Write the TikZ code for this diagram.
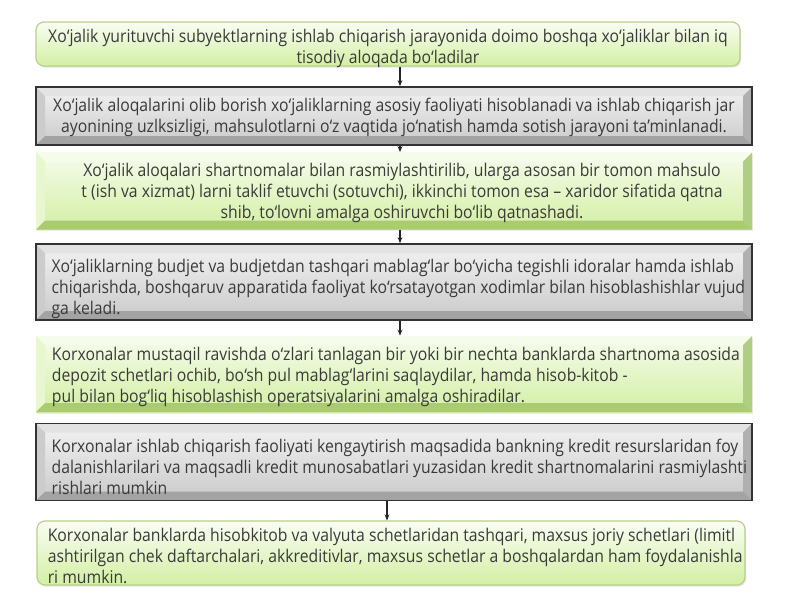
\documentclass[tikz,border=0pt]{standalone}
\usepackage{fontspec}
\setmainfont{Open Sans}[FakeStretch=0.9]
\usepackage{tikz}
\usetikzlibrary{arrows.meta}
\usetikzlibrary{shadows}
\definecolor{txtgray}{HTML}{3A3A3A}
\definecolor{grntop}{HTML}{F6FCEC}
\definecolor{grnbot}{HTML}{D3EFA3}
\definecolor{grnedge}{HTML}{B7D08C}
\definecolor{grnright}{HTML}{B0CD84}
\definecolor{grnlow}{HTML}{AACB72}
\newlength{\bev}
\setlength{\bev}{4.5pt}
\tikzset{
	bevel/.style n args={4}{path picture={
		\fill[#1] (path picture bounding box.north west) -- (path picture bounding box.north east)
			-- ([shift={(-\bev,-\bev)}]path picture bounding box.north east)
			-- ([shift={(\bev,-\bev)}]path picture bounding box.north west) -- cycle;
		\fill[#2] (path picture bounding box.north west) -- (path picture bounding box.south west)
			-- ([shift={(\bev,\bev)}]path picture bounding box.south west)
			-- ([shift={(\bev,-\bev)}]path picture bounding box.north west) -- cycle;
		\fill[#3] (path picture bounding box.north east) -- (path picture bounding box.south east)
			-- ([shift={(-\bev,\bev)}]path picture bounding box.south east)
			-- ([shift={(-\bev,-\bev)}]path picture bounding box.north east) -- cycle;
		\fill[#4] (path picture bounding box.south west) -- (path picture bounding box.south east)
			-- ([shift={(-\bev,\bev)}]path picture bounding box.south east)
			-- ([shift={(\bev,\bev)}]path picture bounding box.south west) -- cycle;
	}},
	graybox/.style={draw=black!80, line width=0.8pt, top color=gray!10, bottom color=gray!42,
		bevel={gray!22}{gray!40}{gray!62}{gray!72}},
	greenbox/.style={draw=none, top color=grntop, bottom color=grnbot,
		bevel={grntop}{grntop!60!grnbot}{grnright}{grnlow},
		drop shadow={opacity=0.15, shadow xshift=0.6pt, shadow yshift=-0.8pt}},
	roundbox/.style={draw=grnedge, line width=0.6pt, rounded corners=4pt, top color=grntop!60!white, bottom color=grnbot,
		drop shadow={opacity=0.2, shadow xshift=0.6pt, shadow yshift=-0.8pt}},
	txt/.style={text=txtgray, inner sep=0pt, font=\fontsize{8.75}{10.5}\selectfont},
	arr/.style={-{Stealth[length=3pt,width=2.4pt]}, line width=0.6pt, black!85},
}
\begin{document}
\begin{tikzpicture}[x=0.5pt,y=-0.5pt]
	\useasboundingbox (0,0) rectangle (800,600);
	% boxes
	\node[roundbox, minimum width=352pt, minimum height=22pt] (b1) at (388,44) {};
	\node[graybox, minimum width=358pt, minimum height=29pt] (b2) at (394,116) {};
	\node[greenbox, minimum width=358pt, minimum height=38.5pt] (b3) at (394,191) {};
	\node[graybox, minimum width=358pt, minimum height=38pt] (b4) at (394,282) {};
	\node[greenbox, minimum width=358pt, minimum height=38pt] (b5) at (394,374) {};
	\node[graybox, minimum width=358pt, minimum height=38.5pt] (b6) at (394,462) {};
	\node[roundbox, minimum width=354pt, minimum height=32pt] (b7) at (391,553) {};
	% texts
	\node[txt, align=center] (t1) at ([yshift=-2pt]b1.center)
		{Xo‘jalik yurituvchi subyektlarning ishlab chiqarish jarayonida doimo boshqa xo‘jaliklar bilan iq\\
		tisodiy aloqada bo‘ladilar};
	\node[txt, align=center] (t2) at ([yshift=-0.5pt]b2.center)
		{Xo‘jalik aloqalarini olib borish xo‘jaliklarning asosiy faoliyati hisoblanadi va ishlab chiqarish jar\\
		ayonining uzlksizligi, mahsulotlarni o‘z vaqtida jo‘natish hamda sotish jarayoni ta’minlanadi.};
	\node[txt, align=center] (t3) at ([xshift=4pt,yshift=-1pt]b3.center)
		{Xo‘jalik aloqalari shartnomalar bilan rasmiylashtirilib, ularga asosan bir tomon mahsulo\\
		t (ish va xizmat) larni taklif etuvchi (sotuvchi), ikkinchi tomon esa – xaridor sifatida qatna\\
		shib, to‘lovni amalga oshiruvchi bo‘lib qatnashadi.};
	\node[txt, align=left, anchor=west] (t4) at ([xshift=8pt,yshift=-3.5pt]b4.west)
		{Xo‘jaliklarning budjet va budjetdan tashqari mablag‘lar bo‘yicha tegishli idoralar hamda ishlab\\
		chiqarishda, boshqaruv apparatida faoliyat ko‘rsatayotgan xodimlar bilan hisoblashishlar vujud\\
		ga keladi.};
	\node[txt, align=left, anchor=west] (t5) at ([xshift=8pt,yshift=-1.5pt]b5.west)
		{Korxonalar mustaqil ravishda o‘zlari tanlagan bir yoki bir nechta banklarda shartnoma asosida\\
		depozit schetlari ochib, bo‘sh pul mablag‘larini saqlaydilar, hamda hisob-kitob -\\
		pul bilan bog‘liq hisoblashish operatsiyalarini amalga oshiradilar.};
	\node[txt, align=left, anchor=west] (t6) at ([xshift=8pt,yshift=-2.5pt]b6.west)
		{Korxonalar ishlab chiqarish faoliyati kengaytirish maqsadida bankning kredit resurslaridan foy\\
		dalanishlarilari va maqsadli kredit munosabatlari yuzasidan kredit shartnomalarini rasmiylashti\\
		rishlari mumkin};
	\node[txt, align=left, anchor=west] (t7) at ([xshift=5.5pt,yshift=-1.5pt]b7.west)
		{Korxonalar banklarda hisobkitob va valyuta schetlaridan tashqari, maxsus joriy schetlari (limitl\\
		ashtirilgan chek daftarchalari, akkreditivlar, maxsus schetlar a boshqalardan ham foydalanishla\\
		ri mumkin.};
	% arrows
	\coordinate (ax) at (400,0);
	\coordinate (bx) at (387,0);
	\draw[arr] (b1.south -| ax) -- (b2.north -| ax);
	\draw[arr] (b2.south -| ax) -- (b3.north -| ax);
	\draw[arr] (b3.south -| ax) -- (b4.north -| ax);
	\draw[arr] (b4.south -| ax) -- (b5.north -| ax);
	\draw[arr] (b6.south -| bx) -- (b7.north -| bx);
\end{tikzpicture}
\end{document}
